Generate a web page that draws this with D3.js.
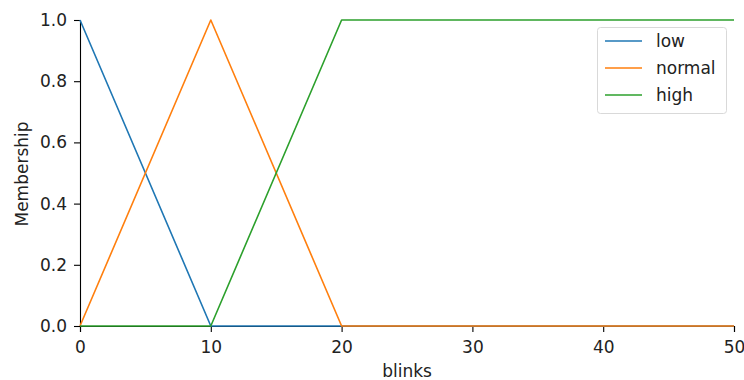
<!DOCTYPE html>
<html><head><meta charset="utf-8">
<script src="https://cdn.jsdelivr.net/npm/d3@7"></script>
<style>body{margin:0;background:#fff}svg{display:block}text{font-family:"DejaVu Sans",sans-serif}</style>
</head><body><svg id="c" width="744" height="380"></svg>
<script>
const xValues = [0, 10, 20, 50];
const lowValues = [1, 0, 0, 0];
const normalValues = [0, 1, 0, 0];
const highValues = [0, 0, 1, 1];
const seriesNames = ["low", "normal", "high"];
const xTicks = [0, 10, 20, 30, 40, 50];
const yTicks = [0, 0.2, 0.4, 0.6, 0.8, 1.0];
const colors = ["#1f77b4", "#ff7f0e", "#2ca02c"];

const FS = 17;
const svg = d3.select("#c");
const x = d3.scaleLinear().domain([0, 50]).range([80, 734]);
const y = d3.scaleLinear().domain([0, 1]).range([326, 20]);

const series = [lowValues, normalValues, highValues];
const line = d3.line().x((d, i) => x(xValues[i])).y(d => y(d));

const xa = svg.append("g").attr("transform", "translate(0,326)")
  .call(d3.axisBottom(x).tickValues(xTicks).tickFormat(d3.format("d")).tickSize(6).tickPadding(9));
const ya = svg.append("g").attr("transform", "translate(80,0)")
  .call(d3.axisLeft(y).tickValues(yTicks).tickFormat(d3.format(".1f")).tickSize(6).tickPadding(7));
[xa, ya].forEach(a => {
  a.selectAll("path.domain").attr("stroke", "#000").attr("stroke-width", 1.1);
  a.selectAll("line").attr("stroke", "#000").attr("stroke-width", 1.1);
  a.selectAll("text").attr("font-size", FS).attr("fill", "#222").attr("font-family", "DejaVu Sans");
});

series.forEach((s, k) => {
  svg.append("path").datum(s).attr("d", line).attr("fill", "none")
    .attr("stroke", colors[k]).attr("stroke-width", 1.6).attr("stroke-linejoin", "round");
});

svg.append("text").attr("x", 407).attr("y", 377).attr("text-anchor", "middle")
  .attr("font-size", FS).attr("fill", "#222").text("blinks");
svg.append("text").attr("transform", "translate(28,174) rotate(-90)").attr("text-anchor", "middle")
  .attr("font-size", FS).attr("fill", "#222").text("Membership");

const lg = svg.append("g");
lg.append("rect").attr("x", 597.5).attr("y", 27.5).attr("width", 129).attr("height", 86)
  .attr("rx", 3).attr("fill", "#fff").attr("fill-opacity", 0.8).attr("stroke", "#d9d9d9");
seriesNames.forEach((n, i) => {
  const yy = 41 + i * 27;
  lg.append("line").attr("x1", 605).attr("x2", 642).attr("y1", yy).attr("y2", yy)
    .attr("stroke", colors[i]).attr("stroke-width", 1.6);
  lg.append("text").attr("x", 656).attr("y", yy + 6).attr("font-size", FS).attr("fill", "#222").text(n);
});
</script></body></html>
